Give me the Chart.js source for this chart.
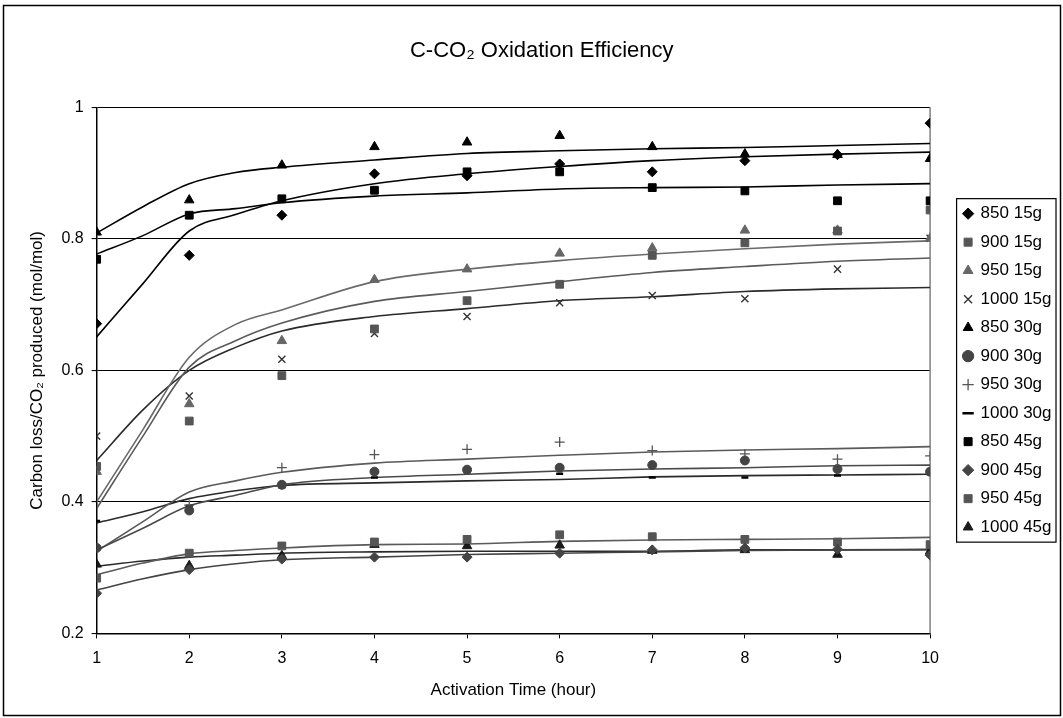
<!DOCTYPE html>
<html>
<head>
<meta charset="utf-8">
<script src="https://cdn.jsdelivr.net/npm/chart.js@4.4.1/dist/chart.umd.min.js"></script>
<style>
  html, body { margin: 0; padding: 0; background: #fff; }
  #wrap { width: 1063px; height: 718px; position: relative; }
</style>
</head>
<body>
<div id="wrap"><canvas id="chart"></canvas></div>
<script>
// Activation time (hour) for the measured points
const hours = [1, 2, 3, 4, 5, 6, 7, 8, 9, 10];
const fitHours = [1, 1.5, 2, 2.5, 3, 4, 5, 6, 7, 8, 9, 10];
const yTicks = [0.2, 0.4, 0.6, 0.8, 1];

// measured efficiency (mol/mol)
const s850_15 = [0.671, 0.775, 0.836, 0.899, 0.896, 0.914, 0.902, 0.919, 0.928, 0.976];
const s900_15 = [0.454, 0.523, 0.592, 0.663, 0.706, 0.731, 0.775, 0.794, 0.812, 0.844];
const s950_15 = [0.446, 0.549, 0.645, 0.738, 0.754, 0.778, 0.786, 0.813, 0.813, 0.801];
const s1000_15 = [0.500, 0.561, 0.617, 0.656, 0.682, 0.703, 0.714, 0.709, 0.754, 0.801];
const s850_30 = [0.810, 0.859, 0.912, 0.940, 0.947, 0.957, 0.940, 0.929, 0.928, 0.922];
const s900_30 = [0.330, 0.387, 0.426, 0.446, 0.449, 0.452, 0.456, 0.463, 0.450, 0.446];
const s950_30 = [0.330, 0.395, 0.452, 0.472, 0.480, 0.491, 0.478, 0.473, 0.465, 0.470];
const s1000_30 = [0.371, 0.394, 0.422, 0.437, 0.445, 0.443, 0.437, 0.437, 0.440, 0.442];
const s850_45 = [0.769, 0.836, 0.861, 0.874, 0.902, 0.902, 0.878, 0.873, 0.858, 0.858];
const s900_45 = [0.261, 0.297, 0.313, 0.316, 0.316, 0.322, 0.327, 0.330, 0.328, 0.319];
const s950_45 = [0.284, 0.322, 0.333, 0.339, 0.343, 0.350, 0.347, 0.343, 0.339, 0.335];
const s1000_45 = [0.305, 0.303, 0.318, 0.335, 0.333, 0.334, 0.326, 0.327, 0.320, 0.325];

// trend curves, read at fitHours
const f850_15 = [0.651, 0.732, 0.812, 0.837, 0.858, 0.884, 0.899, 0.910, 0.919, 0.925, 0.929, 0.932];
const f850_30 = [0.809, 0.849, 0.884, 0.901, 0.909, 0.920, 0.930, 0.934, 0.937, 0.939, 0.942, 0.945];
const f850_45 = [0.777, 0.805, 0.838, 0.846, 0.855, 0.865, 0.870, 0.876, 0.878, 0.879, 0.882, 0.884];
const f900_15 = [0.390, 0.500, 0.605, 0.645, 0.672, 0.705, 0.720, 0.735, 0.749, 0.758, 0.766, 0.771];
const f950_15 = [0.400, 0.510, 0.620, 0.670, 0.692, 0.735, 0.754, 0.767, 0.777, 0.785, 0.792, 0.797];
const f1000_15 = [0.463, 0.540, 0.600, 0.635, 0.660, 0.682, 0.694, 0.706, 0.712, 0.720, 0.724, 0.726];
const f900_30 = [0.327, 0.360, 0.394, 0.410, 0.426, 0.437, 0.442, 0.447, 0.450, 0.452, 0.455, 0.456];
const f950_30 = [0.325, 0.370, 0.415, 0.432, 0.445, 0.459, 0.465, 0.471, 0.476, 0.479, 0.481, 0.484];
const f1000_30 = [0.368, 0.385, 0.405, 0.417, 0.425, 0.429, 0.432, 0.434, 0.438, 0.440, 0.441, 0.442];
const f900_45 = [0.266, 0.283, 0.297, 0.306, 0.312, 0.316, 0.320, 0.322, 0.324, 0.326, 0.327, 0.327];
const f950_45 = [0.289, 0.307, 0.321, 0.326, 0.330, 0.335, 0.336, 0.340, 0.342, 0.343, 0.344, 0.346];
const f1000_45 = [0.302, 0.310, 0.316, 0.319, 0.322, 0.324, 0.325, 0.325, 0.325, 0.327, 0.327, 0.328];

const FONT = '"Liberation Sans", Arial, sans-serif';

function pts(xs, ys) {
    return xs.map((x, i) => ({ x, y: ys[i] }));
}

// --- marker series (these are the legend entries) ---
function markers(label, values, style, color, radius, bw) {
    return {
        label,
        data: pts(hours, values),
        showLine: false,
        pointStyle: style,
        pointRadius: radius,
        pointHoverRadius: radius,
        backgroundColor: color,
        borderColor: color,
        borderWidth: bw || 1
    };
}

function trend(values, color) {
    return {
        label: 'trend',
        data: pts(fitHours, values),
        showLine: true,
        fill: false,
        cubicInterpolationMode: 'monotone',
        pointRadius: 0,
        borderColor: color,
        borderWidth: 1.6
    };
}

const BLACK = '#000000';
const GRAY = '#555555';
const LGRAY = '#666666';

const datasets = [
    markers('850 15g', s850_15, 'rectRot', BLACK, 5),
    markers('900 15g', s900_15, 'rect', GRAY, 5.5),
    markers('950 15g', s950_15, 'triangle', LGRAY, 5.5),
    markers('1000 15g', s1000_15, 'crossRot', '#333333', 5, 1.4),
    markers('850 30g', s850_30, 'triangle', BLACK, 5.5),
    markers('900 30g', s900_30, 'circle', '#444444', 4.5),
    markers('950 30g', s950_30, 'cross', GRAY, 5, 1.3),
    markers('1000 30g', s1000_30, 'line', BLACK, 3.5, 2.5),
    markers('850 45g', s850_45, 'rect', BLACK, 5.5),
    markers('900 45g', s900_45, 'rectRot', '#444444', 5),
    markers('950 45g', s950_45, 'rect', GRAY, 5.5),
    markers('1000 45g', s1000_45, 'triangle', '#1a1a1a', 5.5),
    trend(f850_15, BLACK),
    trend(f850_30, BLACK),
    trend(f850_45, BLACK),
    trend(f900_15, '#5a5a5a'),
    trend(f950_15, '#6a6a6a'),
    trend(f1000_15, '#2a2a2a'),
    trend(f900_30, '#4a4a4a'),
    trend(f950_30, '#5a5a5a'),
    trend(f1000_30, '#2a2a2a'),
    trend(f900_45, '#444444'),
    trend(f950_45, '#5a5a5a'),
    trend(f1000_45, '#2a2a2a')
];

// plot frame, outer chart border and legend box
const framePlugin = {
    id: 'frames',
    beforeDatasetsDraw(chart) {
        const a = chart.chartArea;
        const ctx = chart.ctx;
        ctx.save();
        ctx.strokeStyle = '#808080';
        ctx.lineWidth = 1.5;
        ctx.beginPath();
        ctx.moveTo(a.right, a.top);
        ctx.lineTo(a.right, a.bottom);
        ctx.stroke();
        ctx.restore();
    },
    afterDraw(chart) {
        const ctx = chart.ctx;
        ctx.save();
        ctx.strokeStyle = '#000';
        ctx.lineWidth = 1.5;
        ctx.strokeRect(3.5, 5.5, chart.width - 6, chart.height - 8);
        const boxes = chart.legend.legendHitBoxes;
        if (boxes && boxes.length) {
            const first = boxes[0], last = boxes[boxes.length - 1];
            const right = Math.max(...boxes.map(b => b.left + b.width));
            ctx.lineWidth = 1.2;
            ctx.strokeRect(first.left - 7.5, first.top - 6.5, right - first.left + 12, last.top + last.height - first.top + 13);
        }
        ctx.restore();
    }
};

new Chart(document.getElementById('chart'), {
    type: 'scatter',
    data: { datasets },
    plugins: [framePlugin],
    options: {
        responsive: true,
        maintainAspectRatio: false,
        animation: false,
        events: [],
        layout: { padding: { left: 22, right: 1.5, top: 0, bottom: 17 } },
        plugins: {
            title: {
                display: true,
                text: 'C-CO₂ Oxidation Efficiency',
                color: '#000',
                font: { family: FONT, size: 22, weight: 'normal' },
                padding: { top: 38, bottom: 43 }
            },
            legend: {
                position: 'right',
                fullSize: false,
                labels: {
                    usePointStyle: true,
                    boxWidth: 8,
                    boxHeight: 8,
                    padding: 11.5,
                    color: '#000',
                    font: { family: FONT, size: 17 },
                    filter: item => item.datasetIndex < 12
                }
            },
            tooltip: { enabled: false }
        },
        scales: {
            x: {
                type: 'linear',
                min: 1,
                max: 10,
                ticks: { stepSize: 1, color: '#000', padding: 11, font: { family: FONT, size: 16 } },
                grid: { drawOnChartArea: false, drawTicks: true, tickLength: 5, color: '#000' },
                border: { color: '#000', width: 1.5 },
                title: {
                    display: true,
                    text: 'Activation Time (hour)',
                    color: '#000',
                    font: { family: FONT, size: 17 },
                    padding: { top: 1, bottom: 0 }
                }
            },
            y: {
                min: 0.2,
                max: 1,
                afterBuildTicks: scale => { scale.ticks = yTicks.map(v => ({ value: v })); },
                ticks: { color: '#000', padding: 8, font: { family: FONT, size: 16 }, callback: v => String(v) },
                grid: { color: '#000', lineWidth: 1.1, drawTicks: true, tickLength: 5 },
                border: { color: '#000', width: 1.5 },
                title: {
                    display: true,
                    text: 'Carbon loss/CO₂ produced (mol/mol)',
                    color: '#000',
                    font: { family: FONT, size: 17 },
                    padding: { top: 5, bottom: 6 }
                }
            },
            // empty spacer between the plot and the legend
            gap: {
                type: 'linear',
                position: 'right',
                min: 0,
                max: 1,
                ticks: { display: false },
                grid: { display: false },
                border: { display: false },
                afterFit: scale => { scale.width = 22.5; }
            }
        }
    }
});
</script>
</body>
</html>
